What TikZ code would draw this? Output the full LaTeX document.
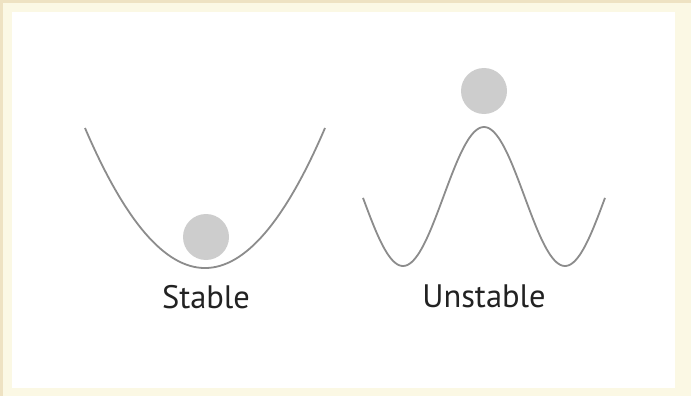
\documentclass[tikz,border=0pt]{standalone}
\usepackage{fontspec}
\setmainfont{PT Sans}
\definecolor{frameout}{HTML}{EEE2C2}
\definecolor{framein}{HTML}{FBF8E4}
\definecolor{curvegray}{HTML}{8C8C8C}
\definecolor{ballgray}{HTML}{CDCDCD}
\definecolor{textgray}{HTML}{222222}
\begin{document}
\begin{tikzpicture}[x=1pt,y=-1pt,
  curve/.style={draw=curvegray,line width=1.8pt},
  ball/.style={circle,fill=ballgray,minimum size=46pt,inner sep=0pt},
  lbl/.style={text=textgray,font=\fontsize{32.5}{38}\selectfont,anchor=base,inner sep=0pt}]
\useasboundingbox (0,0) rectangle (691,396);
\fill[frameout] (0,0) rectangle (691,396);
\fill[framein] (3,3) rectangle (691,396);
\fill[white] (12,12) rectangle (675,388);
% stable
\draw[curve] (85,128) .. controls (165,314.7) and (245,314.7) .. (325,128);
\node[ball] (sball) at (206,237) {};
\node[lbl] (stable) at (206,308) {Stable};
% unstable
\draw[curve] plot[domain=-121:121,samples=121,smooth] ({484+\x},{196.5-69.5*cos(2.22222*\x)});
\node[ball] (uball) at (484,91) {};
\node[lbl] (unstable) at (484,307) {Unstable};
\end{tikzpicture}
\end{document}
